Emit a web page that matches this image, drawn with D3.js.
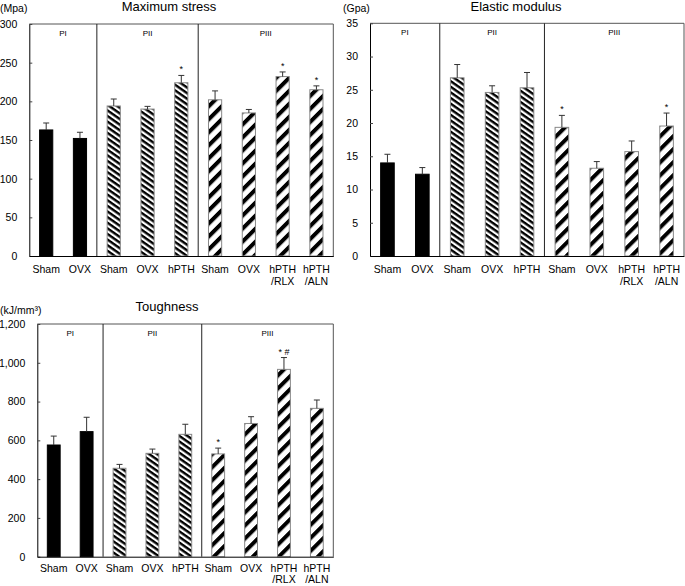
<!DOCTYPE html>
<html><head><meta charset="utf-8">
<script src="https://cdn.jsdelivr.net/npm/d3@7"></script>
<style>
body{margin:0;background:#fff}
svg{display:block}
text{font-family:"Liberation Sans",Arial,Helvetica,sans-serif;fill:#000}
</style>
</head><body>
<svg id="c" width="685" height="586"></svg>
<script>
// ---------- data ----------
const categories = [["Sham"],["OVX"],["Sham"],["OVX"],["hPTH"],["Sham"],["OVX"],["hPTH","/RLX"],["hPTH","/ALN"]];
const groupNames = ["PI","PII","PIII"];
const groupOf = [0,0,1,1,1,2,2,2,2];

const stressMean = [163,152,194,190,224,202,185,232,215];
const stressErr  = [9,8,9,3.5,9.5,11.5,4.5,6,5];
const stressSig  = ["","","","","*","","","*","*"];
const stressTicks = [0,50,100,150,200,250,300];

const modulusMean = [14.0,12.3,26.8,24.6,25.3,19.35,13.2,15.7,19.55];
const modulusErr  = [1.3,1.0,2.0,1.0,2.3,1.8,1.0,1.6,1.95];
const modulusSig  = ["","","","","","*","","","*"];
const modulusTicks = [0,5,10,15,20,25,30,35];

const toughMean = [576,645,456,533,631,530,687,966,765];
const toughErr  = [46,74,20,22,52,30,35,61,43];
const toughSig  = ["","","","","","*","","* #",""];
const toughTicks = [0,200,400,600,800,1000,1200];

// ---------- layout ----------
const panels = [
  {mean:stressMean, err:stressErr, sig:stressSig, ticks:stressTicks, fmt:d3.format("d"),
   title:"Maximum stress", unit:"(Mpa)",
   left:29.3, right:333.3, top:24, bottom:256, titleX:169, titleY:11, unitX:0, unitY:12,
   labPad:9.5, lineGap:"1.15em"},
  {mean:modulusMean, err:modulusErr, sig:modulusSig, ticks:modulusTicks, fmt:d3.format("d"),
   title:"Elastic modulus", unit:"(Gpa)",
   left:370, right:684, top:23.3, bottom:256, titleX:516, titleY:11, unitX:343, unitY:12,
   labPad:9.5, lineGap:"1.15em"},
  {mean:toughMean, err:toughErr, sig:toughSig, ticks:toughTicks, fmt:d3.format(","),
   title:"Toughness", unit:"(kJ/mm\u00B3)",
   left:37.3, right:333.3, top:324, bottom:556.7, titleX:167, titleY:311, unitX:0, unitY:314,
   labPad:8, lineGap:"1.0em"}
];

const svg = d3.select("#c");
const defs = svg.append("defs");

// PII: "\" dense stripes
const p2 = defs.append("pattern").attr("id","pat2").attr("patternUnits","userSpaceOnUse")
  .attr("width",10).attr("height",4.6).attr("patternTransform","rotate(35)");
p2.append("rect").attr("width",10).attr("height",4.6).attr("fill","#fff");
p2.append("rect").attr("width",10).attr("height",2.4).attr("fill","#000");
// PIII: "/" wider stripes
const p3 = defs.append("pattern").attr("id","pat3").attr("patternUnits","userSpaceOnUse")
  .attr("width",12).attr("height",9.2).attr("patternTransform","rotate(-45)");
p3.append("rect").attr("width",12).attr("height",9.2).attr("fill","#fff");
p3.append("rect").attr("width",12).attr("height",4).attr("fill","#000");

const groupFill = ["#000","url(#pat2)","url(#pat3)"];
const groupStroke = ["#000","#888","#888"];

const idx = d3.range(categories.length);

panels.forEach(p => {
  const g = svg.append("g");
  const x = d3.scaleBand().domain(idx).range([p.left,p.right])
    .paddingInner(0.61).paddingOuter(0.305);
  const y = d3.scaleLinear().domain([0, d3.max(p.ticks)]).range([p.bottom,p.top]);
  const step = x.step(), bw = x.bandwidth();
  const cellStart = i => x(i) - (step - bw)/2;

  // frame top & right
  g.append("path")
    .attr("d", `M${p.left},${y(d3.max(p.ticks))}H${p.right}V${p.bottom}`)
    .attr("fill","none").attr("stroke","#555").attr("stroke-width",1);

  // group separators and group labels
  groupNames.forEach((name,gi) => {
    const members = idx.filter(i => groupOf[i]===gi);
    const gs = cellStart(members[0]);
    const ge = cellStart(members[members.length-1]) + step;
    if (gi>0) {
      g.append("line").attr("x1",gs).attr("x2",gs)
        .attr("y1",p.top).attr("y2",p.bottom)
        .attr("stroke","#222").attr("stroke-width",1);
    }
    g.append("text").attr("x",(gs+ge)/2).attr("y",p.top+11.5)
      .attr("text-anchor","middle").style("font-size","8px").text(name);
  });

  // bars
  g.selectAll("rect.bar").data(idx).join("rect").attr("class","bar")
    .attr("x", i => x(i)).attr("width", bw)
    .attr("y", i => y(p.mean[i])).attr("height", i => y(0)-y(p.mean[i]))
    .attr("fill", i => groupFill[groupOf[i]])
    .attr("stroke", i => groupStroke[groupOf[i]]).attr("stroke-width",1);

  // error bars (upper only)
  idx.forEach(i => {
    const cx = x(i) + bw/2;
    const yt = y(p.mean[i] + p.err[i]);
    g.append("line").attr("x1",cx).attr("x2",cx)
      .attr("y1",y(p.mean[i])).attr("y2",yt).attr("stroke","#333").attr("stroke-width",1);
    g.append("line").attr("x1",cx-3).attr("x2",cx+3)
      .attr("y1",yt).attr("y2",yt).attr("stroke","#333").attr("stroke-width",1);
    if (p.sig[i]) {
      g.append("text").attr("x",cx).attr("y",yt-3)
        .attr("text-anchor","middle").style("font-size","9px").text(p.sig[i]);
    }
  });

  // y axis
  const ya = g.append("g").attr("transform",`translate(${p.left},0)`)
    .call(d3.axisLeft(y).tickValues(p.ticks).tickFormat(p.fmt)
      .tickSizeInner(-3).tickSizeOuter(0).tickPadding(12));
  ya.select(".domain").attr("stroke","#000");
  ya.selectAll(".tick line").attr("stroke","#444");
  ya.selectAll("text").style("font-size","10.5px").attr("font-family",null).attr("fill","#000");

  // x axis
  const xa = g.append("g").attr("transform",`translate(0,${p.bottom})`)
    .call(d3.axisBottom(x).tickSize(0).tickPadding(p.labPad).tickFormat(""));
  xa.select(".domain").attr("stroke","#000");
  xa.selectAll(".tick text").each(function(i){
    const t = d3.select(this).style("font-size","10.5px").attr("fill","#000");
    categories[i].forEach((ln,k) => {
      t.append("tspan").attr("x",0).attr("dy", k===0 ? "0.71em" : p.lineGap).text(ln);
    });
  });
  xa.selectAll(".tick text").attr("dy",null);

  // title & unit
  g.append("text").attr("x",p.titleX).attr("y",p.titleY).attr("text-anchor","middle")
    .style("font-size","13px").text(p.title);
  g.append("text").attr("x",p.unitX).attr("y",p.unitY)
    .style("font-size","10.5px").text(p.unit);
});
</script>
</body></html>
